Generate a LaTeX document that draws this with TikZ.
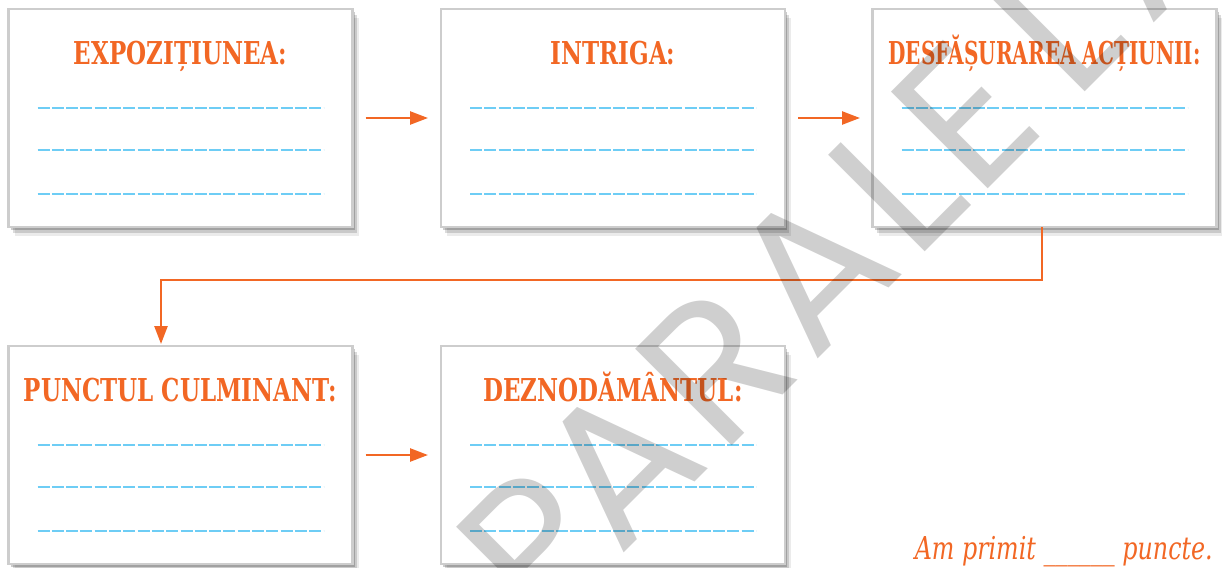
\documentclass[tikz,border=0pt]{standalone}
\usepackage{fontspec}
\usetikzlibrary{arrows.meta,shadows,calc}
\newfontfamily\titlefont{DejaVu Serif}[FakeStretch=0.73]
\newfontfamily\notefont{DejaVu Serif}[FakeStretch=0.755]
\newfontfamily\wmfont{Poppins}
\definecolor{orng}{RGB}{242,103,36}
\definecolor{lineblue}{RGB}{110,205,245}
\definecolor{boxgray}{RGB}{205,205,205}
\tikzset{
  card/.style={draw=boxgray, line width=2.5pt, fill=white, inner sep=0pt, outer sep=0pt,
    minimum width=344pt, minimum height=218pt,
    drop shadow={shadow xshift=2pt, shadow yshift=-3pt, opacity=.2, fill=black},
    drop shadow={shadow xshift=4pt, shadow yshift=-6pt, opacity=.14, fill=black},
    drop shadow={shadow xshift=6pt, shadow yshift=-9pt, opacity=.08, fill=black}},
  ttl/.style={anchor=base, inner sep=0pt, text=orng, font=\titlefont\bfseries\fontsize{31.5pt}{34pt}\selectfont},
  blank/.style={draw=lineblue, line width=2pt, dash pattern=on 12pt off 2.3pt},
  arr/.style={draw=orng, line width=2.5pt, -{Triangle[length=18pt,width=13pt]}},
  wmark/.style={anchor=base, inner sep=0pt, rotate=45, text=black, font=\wmfont\fontsize{196pt}{200pt}\selectfont},
}
\newcommand\mkcard[4]{%
  \node[card] (#1) at (#2,#3) {};
  \node[ttl] (#1t) at ($(#1.north)+(0,55.5)$) {#4};
  \foreach \dy in {99,141,184.5} \draw[blank] ($(#1.north west)+(29,\dy)$) -- ++(286,0);
}
\begin{document}
\begin{tikzpicture}[x=1pt,y=-1pt]
\useasboundingbox (0,0) rectangle (1222,567);
\fill[white] (0,0) rectangle (1222,567);
\mkcard{b1}{180.5}{118}{EXPOZIȚIUNEA:}
\mkcard{b2}{613}{118}{INTRIGA:}
\mkcard{b3}{1044.5}{118}{\scalebox{0.872}[1]{DESFĂȘURAREA ACȚIUNII:}}
\mkcard{b4}{180.5}{455}{PUNCTUL CULMINANT:}
\mkcard{b5}{613}{455}{DEZNODĂMÂNTUL:}
\draw[arr, shorten <=13pt, shorten >=13pt] (b1) -- (b2);
\draw[arr, shorten <=13pt, shorten >=12.5pt] (b2) -- (b3);
\draw[arr, shorten <=13pt, shorten >=13pt] (b4) -- (b5);
\coordinate (k1) at (161,280);
\draw[arr, shorten >=2pt] ([xshift=-2.5pt]b3.south) |- (k1) -- (k1 |- b4.north);
\node[anchor=base east, inner sep=0pt, text=orng, font=\notefont\itshape\fontsize{31.5pt}{34pt}\selectfont] (note) at (1213,559) {Am primit \_\_\_\_\_\_ puncte.};
\begin{scope}
\clip (0,0) rectangle (1222,567);
\begin{scope}[opacity=.19]
\foreach \ch/\s [count=\i] in {P/-8, A/110, R/247, A/384, L/504, E/600, L/730, A/860} {
  \coordinate (wp\i) at ({(1177+1.414*\s)/2},{(1177-1.414*\s)/2});
  \node[wmark] (wl\i) at (wp\i) {\ch};
}
\end{scope}
\end{scope}
\end{tikzpicture}
\end{document}
